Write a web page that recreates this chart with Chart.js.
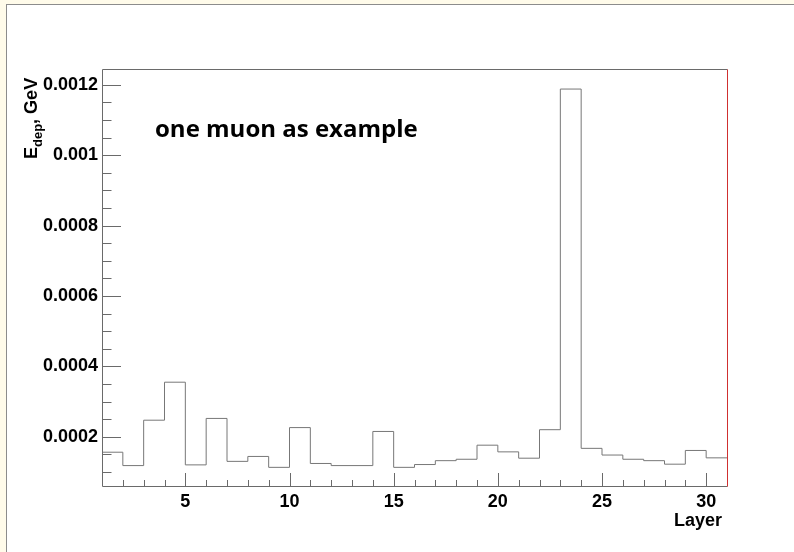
<!DOCTYPE html>
<html>
<head>
<meta charset="utf-8">
<script src="https://cdn.jsdelivr.net/npm/chart.js@4/dist/chart.umd.min.js"></script>
<style>
  html, body { margin: 0; padding: 0; }
  body { width: 794px; height: 552px; background: #fffbea; position: relative; overflow: hidden; }
  #sheet { position: absolute; left: 6px; top: 4px; right: 0; bottom: 0; background: #ffffff;
           border-left: 1px solid #8c8c8c; border-top: 1px solid #8c8c8c; }
  #plot { position: absolute; left: 0; top: 0; }
</style>
</head>
<body>
<div id="sheet"></div>
<canvas id="plot" width="794" height="552"></canvas>
<script>
// Energy deposited per calorimeter layer by a single muon
const layers = [1, 2, 3, 4, 5, 6, 7, 8, 9, 10, 11, 12, 13, 14, 15,
                16, 17, 18, 19, 20, 21, 22, 23, 24, 25, 26, 27, 28, 29, 30];
const edep = [0.000156, 0.000118, 0.000247, 0.000355, 0.000120, 0.000252, 0.000130, 0.000144,
              0.000113, 0.000226, 0.000124, 0.000118, 0.000118, 0.000215, 0.000113, 0.000121,
              0.000132, 0.000136, 0.000176, 0.000157, 0.000139, 0.000220, 0.001188, 0.000167,
              0.000148, 0.000136, 0.000132, 0.000122, 0.000161, 0.000140];
const binWidth = 1;

// Axis ranges and tick marks
const xRange = [1, 31];
const yRange = [0.00006, 0.001245];
const xMajorTicks = [5, 10, 15, 20, 25, 30];
const xMajorLabels = ['5', '10', '15', '20', '25', '30'];
const xMinorStep = 1;
const yMajorTicks = [0.0002, 0.0004, 0.0006, 0.0008, 0.001, 0.0012];
const yMajorLabels = ['0.0002', '0.0004', '0.0006', '0.0008', '0.001', '0.0012'];
const yMinorStep = 0.00005;

const xTitle = 'Layer';
const yTitleMain = 'E';
const yTitleSub = 'dep';
const yTitleRest = ', GeV';
const caption = 'one muon as example';

// histogram outline: each bin held from its left edge to the next edge
const points = layers.map((l, i) => ({ x: l, y: edep[i] }));
points.push({ x: layers[layers.length - 1] + binWidth, y: edep[edep.length - 1] });

const rootFrame = {
  id: 'rootFrame',
  afterDatasetsDraw(chart) {
    const ctx = chart.ctx;
    const a = chart.chartArea;
    const xs = chart.scales.x, ys = chart.scales.y;
    ctx.save();
    ctx.lineWidth = 1;
    ctx.strokeStyle = '#6a6a6a';
    // frame: top, left, bottom
    ctx.beginPath();
    ctx.moveTo(a.left + 0.5, a.bottom + 0.5);
    ctx.lineTo(a.left + 0.5, a.top + 0.5);
    ctx.lineTo(a.right + 0.5, a.top + 0.5);
    ctx.moveTo(a.left + 0.5, a.bottom + 0.5);
    ctx.lineTo(a.right + 0.5, a.bottom + 0.5);
    ctx.stroke();
    // right edge in red
    ctx.strokeStyle = '#d03030';
    ctx.beginPath();
    ctx.moveTo(a.right + 0.5, a.top + 0.5);
    ctx.lineTo(a.right + 0.5, a.bottom + 0.5);
    ctx.stroke();

    // ticks point into the frame
    ctx.strokeStyle = '#6a6a6a';
    ctx.beginPath();
    for (let v = xRange[0] + xMinorStep; v < xRange[1]; v += xMinorStep) {
      const px = Math.round(xs.getPixelForValue(v)) + 0.5;
      const len = xMajorTicks.includes(v) ? 13 : 6;
      ctx.moveTo(px, a.bottom);
      ctx.lineTo(px, a.bottom - len);
    }
    const nMinor = Math.floor(yRange[1] / yMinorStep);
    for (let k = 1; k <= nMinor; k++) {
      const v = k * yMinorStep;
      if (v < yRange[0]) continue;
      const isMajor = yMajorTicks.some(t => Math.abs(t - v) < 1e-9);
      const py = Math.round(ys.getPixelForValue(v)) + 0.5;
      ctx.moveTo(a.left, py);
      ctx.lineTo(a.left + (isMajor ? 19 : 9.5), py);
    }
    ctx.stroke();

    // axis titles and caption
    ctx.fillStyle = '#000000';
    ctx.font = 'bold 18px "Liberation Sans", Arial, sans-serif';
    ctx.textAlign = 'right';
    ctx.textBaseline = 'alphabetic';
    ctx.fillText(xTitle, 722, 526);

    ctx.save();
    ctx.translate(37, 159);
    ctx.rotate(-Math.PI / 2);
    ctx.textAlign = 'left';
    ctx.font = 'bold 18px "Liberation Sans", Arial, sans-serif';
    ctx.fillText(yTitleMain, 0, 0);
    let off = ctx.measureText(yTitleMain).width;
    ctx.font = 'bold 13px "Liberation Sans", Arial, sans-serif';
    ctx.fillText(yTitleSub, off, 5);
    off += ctx.measureText(yTitleSub).width;
    ctx.font = 'bold 18px "Liberation Sans", Arial, sans-serif';
    ctx.fillText(yTitleRest, off, 0);
    ctx.restore();

    ctx.textAlign = 'left';
    ctx.font = 'bold 24px "Open Sans", Lato, sans-serif';
    ctx.fillText(caption, 155, 137);
    ctx.restore();
  }
};

new Chart(document.getElementById('plot'), {
  type: 'line',
  data: {
    datasets: [{
      data: points,
      stepped: 'before',
      borderColor: '#777777',
      borderWidth: 1,
      pointRadius: 0,
      fill: false,
      tension: 0
    }]
  },
  options: {
    responsive: false,
    animation: false,
    devicePixelRatio: 1,
    layout: { padding: { top: 69, right: 67, left: 0, bottom: 0 } },
    plugins: { legend: { display: false }, tooltip: { enabled: false } },
    scales: {
      x: {
        type: 'linear',
        min: xRange[0], max: xRange[1],
        grid: { display: false, drawTicks: false },
        border: { display: false },
        afterBuildTicks(scale) { scale.ticks = xMajorTicks.map(v => ({ value: v })); },
        afterFit(scale) { scale.height = 66; },
        ticks: {
          autoSkip: false,
          maxRotation: 0,
          padding: 5,
          color: '#000000',
          font: { family: '"Liberation Sans", Arial, sans-serif', size: 18, weight: 'bold' },
          callback: (v) => { const i = xMajorTicks.indexOf(v); return i >= 0 ? xMajorLabels[i] : ''; }
        }
      },
      y: {
        type: 'linear',
        min: yRange[0], max: yRange[1],
        grid: { display: false, drawTicks: false },
        border: { display: false },
        afterBuildTicks(scale) { scale.ticks = yMajorTicks.map(v => ({ value: v })); },
        afterFit(scale) { scale.width = 102; },
        ticks: {
          autoSkip: false,
          padding: 4,
          color: '#000000',
          font: { family: '"Liberation Sans", Arial, sans-serif', size: 18, weight: 'bold' },
          callback: (v) => {
            const i = yMajorTicks.findIndex(t => Math.abs(t - v) < 1e-9);
            return i >= 0 ? yMajorLabels[i] : '';
          }
        }
      }
    }
  },
  plugins: [rootFrame]
});
</script>
</body>
</html>
